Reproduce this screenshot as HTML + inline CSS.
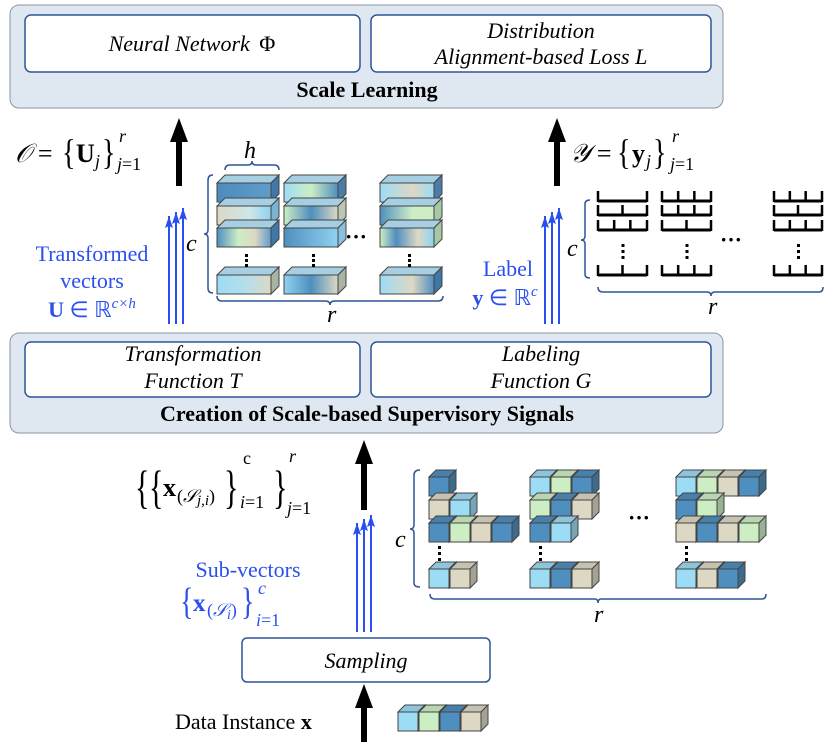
<!DOCTYPE html>
<html><head><meta charset="utf-8"><style>
html,body{margin:0;padding:0;background:#fff;}
svg{display:block;font-family:"Liberation Serif",serif;}
.it{font-style:italic;}
</style></head><body>
<svg id="s" width="831" height="742" viewBox="0 0 831 742" xmlns="http://www.w3.org/2000/svg">
<defs>
<marker id="ab" markerWidth="13" markerHeight="8" refX="12" refY="4" orient="auto" markerUnits="userSpaceOnUse"><path d="M0,0 L12,4 L0,8 L2,4 Z" fill="#2a4ff0"/></marker>
<linearGradient id="g1" x1="0" x2="1"><stop offset="0" stop-color="#4d8cbd"/><stop offset="1" stop-color="#5f9ccc"/></linearGradient>
<linearGradient id="g2" x1="0" x2="1"><stop offset="0" stop-color="#ddd8c4"/><stop offset=".6" stop-color="#cfe6e8"/><stop offset="1" stop-color="#8fd2f0"/></linearGradient>
<linearGradient id="g3" x1="0" x2="1"><stop offset="0" stop-color="#4f8fbf"/><stop offset=".4" stop-color="#cdeec5"/><stop offset=".7" stop-color="#ddd8c4"/><stop offset="1" stop-color="#5f9ccc"/></linearGradient>
<linearGradient id="g4" x1="0" x2="1"><stop offset="0" stop-color="#9ddcf5"/><stop offset=".6" stop-color="#b9dfe6"/><stop offset="1" stop-color="#ddd8c4"/></linearGradient>
<linearGradient id="g5" x1="0" x2="1"><stop offset="0" stop-color="#9ddcf5"/><stop offset=".5" stop-color="#cdeec5"/><stop offset="1" stop-color="#4f8fbf"/></linearGradient>
<linearGradient id="g6" x1="0" x2="1"><stop offset="0" stop-color="#cdeec5"/><stop offset=".5" stop-color="#4f8fbf"/><stop offset="1" stop-color="#ddd8c4"/></linearGradient>
<linearGradient id="g7" x1="0" x2="1"><stop offset="0" stop-color="#4f8fbf"/><stop offset="1" stop-color="#8fd2f0"/></linearGradient>
<linearGradient id="g8" x1="0" x2="1"><stop offset="0" stop-color="#8fd2f0"/><stop offset=".5" stop-color="#4f8fbf"/><stop offset="1" stop-color="#ddd8c4"/></linearGradient>
<linearGradient id="g9" x1="0" x2="1"><stop offset="0" stop-color="#9ddcf5"/><stop offset=".6" stop-color="#ddd8c4"/><stop offset="1" stop-color="#9ddcf5"/></linearGradient>
<linearGradient id="g10" x1="0" x2="1"><stop offset="0" stop-color="#4f8fbf"/><stop offset=".6" stop-color="#cdeec5"/><stop offset="1" stop-color="#cdeec5"/></linearGradient>
<linearGradient id="g11" x1="0" x2="1"><stop offset="0" stop-color="#cdeec5"/><stop offset=".3" stop-color="#4f8fbf"/><stop offset=".7" stop-color="#ddd8c4"/><stop offset="1" stop-color="#8fd2f0"/></linearGradient>
<linearGradient id="g12" x1="0" x2="1"><stop offset="0" stop-color="#9ddcf5"/><stop offset=".6" stop-color="#ddd8c4"/><stop offset="1" stop-color="#4f8fbf"/></linearGradient>
</defs>

<rect x="10" y="5" width="713" height="103" rx="9" fill="#dfe8f0" stroke="#8a96a3" stroke-width="1"/>
<rect x="25" y="15" width="335" height="57" rx="6" fill="#fff" stroke="#2f5597" stroke-width="1.5"/>
<rect x="371" y="15" width="340" height="57" rx="6" fill="#fff" stroke="#2f5597" stroke-width="1.5"/>
<text x="192" y="51" font-size="22" text-anchor="middle" class="it">Neural Network <tspan font-style="normal" dx="4">Φ</tspan></text>
<text x="541" y="38" font-size="22" text-anchor="middle" class="it">Distribution</text>
<text x="541" y="64" font-size="22" text-anchor="middle" class="it">Alignment-based Loss L</text>
<text x="367" y="97" font-size="22" font-weight="bold" text-anchor="middle">Scale Learning</text>

<rect x="10" y="333" width="713" height="100" rx="9" fill="#dfe8f0" stroke="#8a96a3" stroke-width="1"/>
<rect x="25" y="342" width="335" height="55" rx="6" fill="#fff" stroke="#2f5597" stroke-width="1.5"/>
<rect x="371" y="342" width="340" height="55" rx="6" fill="#fff" stroke="#2f5597" stroke-width="1.5"/>
<text x="193" y="361" font-size="22" text-anchor="middle" class="it">Transformation</text>
<text x="193" y="388" font-size="22" text-anchor="middle" class="it">Function T</text>
<text x="541" y="361" font-size="22" text-anchor="middle" class="it">Labeling</text>
<text x="541" y="388" font-size="22" text-anchor="middle" class="it">Function G</text>
<text x="367" y="421" font-size="22" font-weight="bold" text-anchor="middle">Creation of Scale-based Supervisory Signals</text>

<rect x="242" y="638" width="248" height="44" rx="5" fill="#fff" stroke="#2f5597" stroke-width="1.5"/>
<text x="366" y="668" font-size="22" text-anchor="middle" class="it">Sampling</text>

<g fill="#000">
<rect x="176" y="140" width="6" height="46"/><path d="M170,142 L179,118 L188,142 Z"/>
<rect x="554" y="140" width="6" height="46"/><path d="M548,142 L557,118 L566,142 Z"/>
<rect x="361" y="462" width="6" height="48"/><path d="M355,464 L364,440 L373,464 Z"/>
<rect x="361" y="705" width="6" height="37"/><path d="M355,708 L364,684 L373,708 Z"/>
</g>

<g stroke="#2a4ff0" stroke-width="2" marker-end="url(#ab)">
<line x1="169" y1="324" x2="169" y2="216"/><line x1="176" y1="324" x2="176" y2="212"/><line x1="183" y1="324" x2="183" y2="208"/>
<line x1="545" y1="324" x2="545" y2="216"/><line x1="552" y1="324" x2="552" y2="212"/><line x1="559" y1="324" x2="559" y2="208"/>
<line x1="357" y1="632" x2="357" y2="523"/><line x1="364" y1="632" x2="364" y2="519"/><line x1="371" y1="632" x2="371" y2="515"/>
</g>

<g fill="#2a4ff0" font-size="22" text-anchor="middle">
<text x="92" y="261">Transformed</text>
<text x="92" y="288">vectors</text>
<text x="92" y="317"><tspan font-weight="bold">U</tspan> ∈ ℝ<tspan font-size="15" dy="-9" class="it">c×h</tspan></text>
<text x="508" y="276">Label</text>
<text x="505" y="305"><tspan font-weight="bold">y</tspan> ∈ ℝ<tspan font-size="15" dy="-9" class="it">c</tspan></text>
<text x="248" y="577">Sub-vectors</text>
</g>
<g fill="#2a4ff0">
<text transform="translate(180,614) scale(1,1.35)" font-size="28">{</text>
<text x="193" y="611" font-size="25" font-weight="bold">x</text>
<text x="207" y="616" font-size="18">(<tspan class="it">𝒮</tspan><tspan class="it" font-size="14" dy="3">i</tspan><tspan dy="-3">)</tspan></text>
<text transform="translate(241,614) scale(1,1.35)" font-size="28">}</text>
<text x="258" y="594" font-size="18" class="it">c</text>
<text x="256" y="626" font-size="18"><tspan class="it">i</tspan>=1</text>
</g>

<g font-size="26">
<text x="15" y="162"><tspan class="it">𝒪</tspan> = </text>
<text transform="translate(62,164) scale(1,1.3)" font-size="28">{</text>
<text x="76" y="162" font-weight="bold">U</text>
<text x="95" y="167" font-size="18" class="it">j</text>
<text transform="translate(102,164) scale(1,1.3)" font-size="28">}</text>
<text x="119" y="142" font-size="18" class="it">r</text>
<text x="117" y="170" font-size="18"><tspan class="it">j</tspan>=1</text>

<text x="570" y="162"><tspan class="it">𝒴</tspan> = </text>
<text transform="translate(617,164) scale(1,1.3)" font-size="28">{</text>
<text x="632" y="162" font-weight="bold">y</text>
<text x="646" y="167" font-size="18" class="it">j</text>
<text transform="translate(653,164) scale(1,1.3)" font-size="28">}</text>
<text x="672" y="142" font-size="18" class="it">r</text>
<text x="670" y="170" font-size="18"><tspan class="it">j</tspan>=1</text>

<text transform="translate(135,503) scale(1,1.55)" font-size="30">{</text>
<text transform="translate(149,503) scale(1,1.55)" font-size="30">{</text>
<text x="163" y="496" font-weight="bold">x</text>
<text x="177" y="502" font-size="18">(<tspan class="it">𝒮</tspan><tspan class="it" font-size="15" dy="3">j,i</tspan><tspan dy="-3">)</tspan></text>
<text transform="translate(224,503) scale(1,1.55)" font-size="30">}</text>
<text x="243" y="464" font-size="18">c</text>
<text x="240" y="508" font-size="18"><tspan class="it">i</tspan>=1</text>
<text transform="translate(273,503) scale(1,1.55)" font-size="30">}</text>
<text x="289" y="462" font-size="18" class="it">r</text>
<text x="287" y="514" font-size="18"><tspan class="it">j</tspan>=1</text>
<text x="175" y="729" font-size="22">Data Instance <tspan font-weight="bold">x</tspan></text>
</g>

<g fill="none" stroke="#2f5597" stroke-width="1.5">
<path d="M213,175 Q208,175 208,180 L208,230 Q208,234 204,234 Q208,234 208,238 L208,288 Q208,293 213,293"/>
<path d="M225,170 Q225,165 230,165 L248,165 Q252,165 252,161 Q252,165 256,165 L274,165 Q279,165 279,170"/>
<path d="M217,296 Q217,301 222,301 L325,301 Q330,301 330,305 Q330,301 335,301 L438,301 Q443,301 443,296"/>
<path d="M590,200 Q585,200 585,204 L585,236 Q585,240 581,240 Q585,240 585,244 L585,274 Q585,278 590,278"/>
<path d="M598,287 Q598,292 603,292 L707,292 Q711,292 711,296 Q711,292 715,292 L819,292 Q823,292 823,287"/>
<path d="M420,470 Q414,470 414,475 L414,525 Q414,529 410,529 Q414,529 414,533 L414,583 Q414,587 420,587"/>
<path d="M430,594 Q430,599 435,599 L595,599 Q598,599 598,603 Q598,599 601,599 L762,599 Q766,599 766,594"/>
</g>
<g font-size="24" class="it">
<text x="244" y="158">h</text>
<text x="186" y="251">c</text>
<text x="327" y="322">r</text>
<text x="567" y="256">c</text>
<text x="708" y="314">r</text>
<text x="395" y="547">c</text>
<text x="594" y="622">r</text>
</g>
<g font-size="22" font-weight="bold">
<text x="345" y="244">···</text>
<text x="720" y="247">···</text>
<text x="628" y="525">···</text>
</g>
<g id="dyn"></g>
</svg>
<script>
var NS="http://www.w3.org/2000/svg",g=document.getElementById('dyn');
function el(t,a){var e=document.createElementNS(NS,t);for(var k in a)e.setAttribute(k,a[k]);g.appendChild(e);return e;}
function shade(c,f){var n=parseInt(c.slice(1),16),r=(n>>16)*f,gg=((n>>8)&255)*f,b=(n&255)*f;return 'rgb('+Math.min(255,r|0)+','+Math.min(255,gg|0)+','+Math.min(255,b|0)+')';}
function box(x,y,w,h,d,fill,side,top){
 el('path',{d:'M'+x+','+y+' l'+d+','+(-d)+' h'+w+' l'+(-d)+','+d+' z',fill:top,stroke:'#444','stroke-width':1});
 el('path',{d:'M'+(x+w)+','+y+' l'+d+','+(-d)+' v'+h+' l'+(-d)+','+d+' z',fill:side,stroke:'#444','stroke-width':1});
 el('rect',{x:x,y:y,width:w,height:h,fill:fill,stroke:'#444','stroke-width':1});
}
var cols=[217,284,380],rows=[183,206,228,275];
var fills=[['g1','g2','g3','g4'],['g5','g6','g7','g8'],['g9','g10','g11','g12']];
var sides=[['#3f77a6','#7bb4d4','#3f77a6','#a9b3a6'],['#4a7da8','#bcc7b2','#8bc0dc','#a9b3a6'],['#4a7da8','#a7c8a6','#a7c8a6','#3f77a6']];
for(var c=0;c<3;c++){for(var r=0;r<4;r++){box(cols[c],rows[r],54,19,8,'url(#'+fills[c][r]+')',sides[c][r],'#a7cfe3');}
 for(var k=0;k<3;k++)el('rect',{x:cols[c]+28,y:254+k*5,width:3,height:3,fill:'#000'});}
var C={L:'#9ddcf5',G:'#cdeec5',T:'#ddd8c4',D:'#4f8fbf'};
function cubes(x0,y0,s){for(var i=0;i<s.length;i++){var c=C[s[i]];box(x0+i*21,y0,20,19,7,c,shade(c,0.75),shade(c,0.9));}}
var pat=[[429,['D','TL','DGTD','LT']],[530,['LGD','GDT','DL','LDT']],[676,['LGTD','DG','TDTG','LTD']]];
var ry=[477,500,523,569];
pat.forEach(function(p){for(var r=0;r<4;r++)cubes(p[0],ry[r],p[1][r]);for(var k=0;k<3;k++)el('rect',{x:p[0]+9,y:546+k*6,width:3,height:3,fill:'#000'});});
cubes(398,712,'LGDT');
var lc=[598,662,774],lr=[201,215,230,275];
var tk=[[[0,1],[0,.5,1],[0,.33,.66,1],[0,.5,1]],[[0,.33,.66,1],[0,.33,.66,1],[0,.5,1],[0,.33,.66,1]],[[0,.33,.66,1],[0,.5,1],[0,.33,.66,1],[0,.33,.66,1]]];
for(var c=0;c<3;c++){var w=c==2?48:49;for(var r=0;r<4;r++){var y=lr[r];el('line',{x1:lc[c],y1:y,x2:lc[c]+w,y2:y,stroke:'#000','stroke-width':3});
 tk[c][r].forEach(function(t){var x=lc[c]+t*w;el('line',{x1:x,y1:y+1,x2:x,y2:y-10,stroke:'#000','stroke-width':2.5});});}
 for(var k=0;k<3;k++)el('rect',{x:lc[c]+w/2-1,y:244+k*6,width:3,height:3,fill:'#000'});}
</script>
</body></html>
